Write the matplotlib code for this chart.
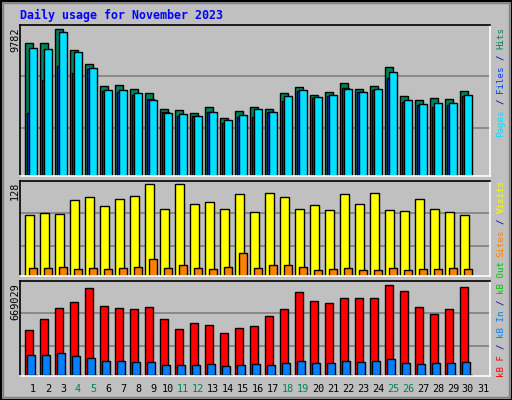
import matplotlib
matplotlib.use("Agg")
import matplotlib.pyplot as plt
from matplotlib.patches import Rectangle
import numpy as np

days = list(range(1, 32))
weekend_days = [4, 5, 11, 12, 18, 19, 25, 26]
hits = [8830, 8830, 9782, 8364, 7433, 5969, 6055, 5769, 5503, 4458, 4372, 4172, 4571, 3839, 4305,
        4571, 4458, 5503, 5902, 5370, 5569, 6168, 5769, 5969, 7233, 5303, 5037, 5170, 5104, 5636]
files = [8497, 8431, 9562, 8231, 7166, 5703, 5703, 5503, 5037, 4172, 4106, 3972, 4239, 3706, 4039,
         4438, 4239, 5303, 5703, 5237, 5370, 5769, 5569, 5769, 6900, 5037, 4771, 4837, 4837, 5370]
pages = [4172, 6368, 7299, 6834, 7100, 5636, 5569, 5370, 5104, 4239, 3972, 3972, 4239, 3507, 3906,
         3906, 4239, 4971, 5636, 5170, 5303, 5836, 5569, 5703, 6501, 4904, 4704, 4571, 4704, 5303]
visits = [85, 88, 87, 106, 110, 98, 107, 112, 128, 94, 128, 101, 103, 94, 114,
          89, 116, 110, 94, 99, 92, 114, 101, 116, 92, 91, 107, 94, 89, 85]
sites = [11, 11, 13, 10, 11, 10, 11, 13, 24, 11, 15, 11, 10, 13, 32,
         11, 15, 15, 13, 8, 10, 11, 8, 8, 11, 8, 10, 10, 11, 10]
kb_f = [330845, 411718, 492590, 536703, 639632, 507298, 492590, 485239, 499943, 411718, 338197, 382309,
        367605, 308788, 345549, 360253, 433774, 485239, 610225, 544055, 529351, 566112, 566112, 566112,
        669029, 617576, 499943, 448478, 485239, 646985]
kb_in = [147042, 147042, 161746, 139690, 124986, 102929, 102929, 95577, 95577, 73521, 73521, 73521,
         80873, 66169, 73521, 80873, 73521, 88225, 102929, 88225, 88225, 102929, 95577, 102929,
         117634, 88225, 80873, 88225, 88225, 95577]
kb_out = [3000] * 30
max_hits, max_visits, max_kb = "9782", "128", "669029"

W, H = 512, 400
BG = "#C0C0C0"
fig = plt.figure(figsize=(W / 100, H / 100), dpi=100, facecolor=BG)
MONO = "DejaVu Sans Mono"

def fx(px): return px / W
def fy(py): return 1 - py / H

def panel(top, bottom):
    ax = fig.add_axes([fx(20), fy(bottom), fx(490) - fx(20), fy(top) - fy(bottom)])
    ax.set_facecolor(BG)
    ax.set_xlim((20 - 18) / 15, (490 - 18) / 15)
    for s in ["top", "left"]:
        ax.spines[s].set_color("black")
    for s in ["right", "bottom"]:
        ax.spines[s].set_color("white")
    for s in ax.spines.values():
        s.set_linewidth(1.2)
    ax.set_xticks([]); ax.set_yticks([])
    return ax

def grid(ax, ymax):
    for f in (0.315, 0.66):
        ax.axhline(f * ymax, color="#808080", lw=1.2, zorder=0)

x = np.arange(1, 31)
kw = dict(edgecolor="black", linewidth=1.0, align="edge")

ax1 = panel(25, 176)
y1 = 9782 * 151 / 147
ax1.set_ylim(0, y1); grid(ax1, y1)
ax1.bar(x - 7.7 / 15, hits, width=7.4 / 15, color="#00805C", **kw)
ax1.bar(x - 6.3 / 15, pages, width=7.3 / 15, color="#0040FF", **kw)
ax1.bar(x - 3.7 / 15, files, width=7.4 / 15, color="#00E0FF", **kw)

ax2 = panel(181, 276)
y2 = 128 * 95 / 91.7
ax2.set_ylim(0, y2); grid(ax2, y2)
ax2.bar(x - 7.7 / 15, visits, width=8.4 / 15, color="#FFFF00", **kw)
ax2.bar(x - 3.7 / 15, sites, width=7.4 / 15, color="#FF8000", **kw)

ax3 = panel(281, 375.5)
y3 = 669029 * 94.5 / 91
ax3.set_ylim(0, y3); grid(ax3, y3)
ax3.bar(x - 7.7 / 15, kb_f, width=7.4 / 15, color="#FF0000", **kw)
ax3.bar(x - 5.7 / 15, kb_in, width=7.4 / 15, color="#0080FF", **kw)
ax3.bar(x - 3.7 / 15, kb_out, width=7.4 / 15, color="#00C000", **kw)

fig.text(fx(20), fy(15), "Daily usage for November 2023", color="#0000FF",
         fontsize=8.4, fontweight="bold", family=MONO, va="center", ha="left")

for txt, top in [(max_hits, 27), (max_visits, 182), (max_kb, 283)]:
    fig.text(fx(15), fy(top), txt, rotation=90, fontsize=7.3, family=MONO,
             ha="center", va="top", color="black")

FS = 6.6
CH = FS * 0.602 * 100 / 72
def legend(bottom_px, pieces):
    pos = bottom_px
    for txt, col in pieces:
        n = len(txt)
        t = txt.strip()
        lead = len(txt) - len(txt.lstrip())
        fig.text(fx(501), fy(pos - lead * CH), t, rotation=90, fontsize=FS, family=MONO,
                 ha="center", va="bottom", color=col)
        pos -= CH * n

legend(137, [("Pages", "#00E0FF"), (" / ", "#0000A0"), ("Files", "#0040FF"),
             (" / ", "#0000A0"), ("Hits", "#00805C")])
legend(257, [("Sites", "#FF8000"), (" / ", "#0000A0"), ("Visits", "#FFFF00")])
legend(377, [("kB F", "#FF0000"), (" / ", "#0000A0"), ("kB In", "#0080FF"),
             (" / ", "#0000A0"), ("kB Out", "#00C000")])

for d in days:
    col = "#00805C" if d in weekend_days else "black"
    fig.text(fx(18 + 15 * d), fy(389), str(d), color=col, fontsize=7.3, family=MONO,
             ha="center", va="center")

fig.patches.append(Rectangle((0, 0), 1, 1, transform=fig.transFigure, fill=False,
                             edgecolor="black", linewidth=2.5))
fig.patches.append(Rectangle((fx(3), fy(397)), fx(506), fy(3) - fy(397), transform=fig.transFigure,
                             fill=False, edgecolor="#808080", linewidth=1))

fig.savefig("out.png", dpi=100, facecolor=BG)
